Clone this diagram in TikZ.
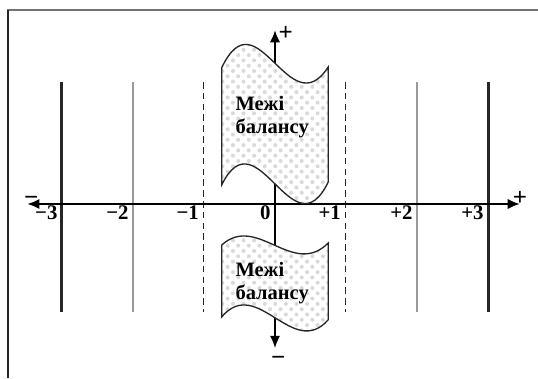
\documentclass[tikz,border=0pt]{standalone}
\usepackage{fontspec}
\setmainfont{Liberation Serif}
\usetikzlibrary{calc}
\usetikzlibrary{positioning}
\usetikzlibrary{arrows.meta}
\usetikzlibrary{patterns.meta}

\tikzset{
    axisline/.style={line width=1.3pt, {Latex[length=2.6mm,width=2.2mm]}-{Latex[length=2.6mm,width=2.2mm]}},
    thickbound/.style={line width=1.8pt, black!85},
    thinbound/.style={line width=0.7pt, black!40},
    dashbound/.style={line width=0.7pt, black!85, dash pattern=on 4pt off 2.5pt},
    banner/.style={draw=black!85, line width=0.8pt, preaction={fill=white}, pattern={Dots[distance=4.5pt,radius=1.2pt,angle=45]}, pattern color=black!15},
    ticklabel/.style={font=\bfseries\fontsize{12.5}{14}\selectfont, inner sep=1pt, anchor=north east, xshift=-1.5pt},
    signlabel/.style={font=\bfseries\fontsize{15}{17}\selectfont, inner sep=1pt},
    bannertext/.style={font=\bfseries\fontsize{12.3}{13.8}\selectfont, align=left, inner sep=0pt, anchor=west}
}

\begin{document}
\begin{tikzpicture}[x=1.5cm, y=1.5cm]
    \useasboundingbox (-3.873,-2.451) rectangle (3.704,2.873);

    % frame
    \draw [line width=1.5pt, black!55] (-3.775,2.732) -- (3.704,2.732);
    \draw [line width=1.3pt, black!85] (-3.761,2.732) -- (-3.761,-2.451);

    % bounds
    \coordinate (m3top) at (-3,1.718);  \coordinate (m3bot) at (-3,-1.521);
    \coordinate (m2top) at (-2,1.718);  \coordinate (m2bot) at (-2,-1.521);
    \coordinate (m1top) at (-1.01,1.718); \coordinate (m1bot) at (-1.01,-1.521);
    \coordinate (p1top) at (0.99,1.718);  \coordinate (p1bot) at (0.99,-1.521);
    \coordinate (p2top) at (2,1.718);   \coordinate (p2bot) at (2,-1.521);
    \coordinate (p3top) at (3,1.718);   \coordinate (p3bot) at (3,-1.521);

    \draw [thickbound] (m3top) -- (m3bot);
    \draw [thinbound] (m2top) -- (m2bot);
    \draw [dashbound] (m1top) -- (m1bot);
    \draw [dashbound] (p1top) -- (p1bot);
    \draw [thinbound] (p2top) -- (p2bot);
    \draw [thickbound] (p3top) -- (p3bot);

    % axes
    \coordinate (xl) at (-3.49,0);
    \coordinate (xr) at (3.45,0);
    \coordinate (yt) at (0,2.45);
    \coordinate (yb) at (0,-2.03);
    \draw [axisline] (xl) -- (xr);
    \draw [axisline] (yb) -- (yt);

    % banners
    \path [banner] (-0.75,1.92) .. controls (-0.25,2.97) and (0.2,1.08) .. (0.75,1.93)
        -- (0.75,0.31) .. controls (0.25,-0.72) and (-0.25,1.28) .. (-0.75,0.27) -- cycle;
    \path [banner] (-0.75,-0.577) .. controls (-0.25,-0.13) and (0.25,-1.05) .. (0.75,-0.549)
        -- (0.75,-1.63) .. controls (0.25,-2.2) and (-0.25,-1.0) .. (-0.75,-1.59) -- cycle;

    \node [bannertext] (uppertext) at (-0.56,1.23) {Межі\\балансу};
    \node [bannertext] (lowertext) at (-0.56,-1.11) {Межі\\балансу};

    % labels
    \node [ticklabel] (lm3) at (-3,0) {−3};
    \node [ticklabel] (lm2) at (-2,0) {−2};
    \node [ticklabel] (lm1) at (-1.01,0) {−1};
    \node [ticklabel] (lzero) at (0,0) {0};
    \node [ticklabel] (lp1) at (0.99,0) {+1};
    \node [ticklabel] (lp2) at (2,0) {+2};
    \node [ticklabel] (lp3) at (3,0) {+3};

    \node [signlabel, right=1pt of yt, yshift=-2pt] (plustop) {+};
    \node [signlabel, below=4pt of yb, xshift=2pt] (minusbot) {−};
    \node [signlabel, above right=-2pt and -3pt of xl] (minusleft) {−};
    \node [signlabel, above=-2pt of xr] (plusright) {+};
\end{tikzpicture}
\end{document}
